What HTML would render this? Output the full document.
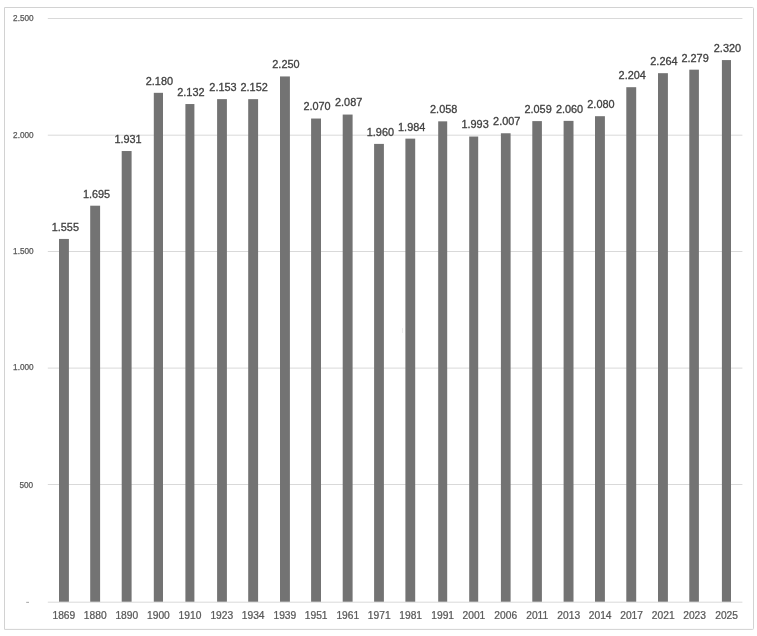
<!DOCTYPE html>
<html><head><meta charset="utf-8"><title>Chart</title>
<style>
html,body{margin:0;padding:0;background:#fff;}
body{width:757px;height:636px;overflow:hidden;font-family:"Liberation Sans",sans-serif;}
svg{display:block;position:absolute;left:0;top:0;will-change:transform;}
text{font-family:"Liberation Sans",sans-serif;}
.dl{font-size:10.9px;fill:#404040;stroke:#404040;stroke-width:0.3px;text-anchor:middle;}
.xl{font-size:10.25px;fill:#595959;stroke:#595959;stroke-width:0.25px;text-anchor:middle;}
.yl{font-size:8.2px;fill:#595959;stroke:#595959;stroke-width:0.25px;text-anchor:end;}
</style></head><body>
<svg width="757" height="636" viewBox="0 0 757 636">
<rect x="0" y="0" width="757" height="636" fill="#ffffff"/>
<path d="M4.5 7.5 H752.6 Q753.5 7.5 753.5 8.4 V628.5 Q753.5 629.4 752.6 629.4 H4.5 Z" fill="none" stroke="#d2d2d2" stroke-width="1" stroke-linejoin="miter"/>

<line x1="47.8" x2="742.4" y1="18.5" y2="18.5" stroke="#d9d9d9" stroke-width="1"/>
<line x1="47.8" x2="742.4" y1="135.2" y2="135.2" stroke="#d9d9d9" stroke-width="1"/>
<line x1="47.8" x2="742.4" y1="251.5" y2="251.5" stroke="#d9d9d9" stroke-width="1"/>
<line x1="47.8" x2="742.4" y1="368.1" y2="368.1" stroke="#d9d9d9" stroke-width="1"/>
<line x1="47.8" x2="742.4" y1="484.5" y2="484.5" stroke="#d9d9d9" stroke-width="1"/>
<line x1="47.8" x2="742.4" y1="602.2" y2="602.2" stroke="#d9d9d9" stroke-width="1"/>
<text class="yl" x="33.6" y="21.10">2.500</text>
<text class="yl" x="33.6" y="137.50">2.000</text>
<text class="yl" x="33.6" y="254.10">1.500</text>
<text class="yl" x="33.6" y="370.40">1.000</text>
<text class="yl" x="33.2" y="488.10">500</text>
<rect x="26.2" y="601.85" width="2.8" height="0.9" fill="#9a9a9a"/>
<rect x="59.00" y="238.94" width="9.90" height="362.76" fill="#737373"/>
<text class="dl" x="65.35" y="230.84">1.555</text>
<text class="xl" transform="translate(63.87 618.9) scale(1 0.98)">1869</text>
<rect x="90.20" y="205.70" width="9.90" height="396.00" fill="#737373"/>
<text class="dl" x="96.55" y="197.60">1.695</text>
<text class="xl" transform="translate(95.25 618.9) scale(1 0.98)">1880</text>
<rect x="121.70" y="151.03" width="9.90" height="450.67" fill="#737373"/>
<text class="dl" x="128.05" y="142.93">1.931</text>
<text class="xl" transform="translate(126.78 618.9) scale(1 0.98)">1890</text>
<rect x="153.80" y="92.82" width="9.20" height="508.88" fill="#737373"/>
<text class="dl" x="159.40" y="84.72">2.180</text>
<text class="xl" transform="translate(158.44 618.9) scale(1 0.98)">1900</text>
<rect x="185.40" y="104.04" width="9.00" height="497.66" fill="#737373"/>
<text class="dl" x="190.90" y="95.94">2.132</text>
<text class="xl" transform="translate(189.98 618.9) scale(1 0.98)">1910</text>
<rect x="217.10" y="99.13" width="9.80" height="502.57" fill="#737373"/>
<text class="dl" x="223.00" y="91.03">2.153</text>
<text class="xl" transform="translate(221.81 618.9) scale(1 0.98)">1923</text>
<rect x="248.20" y="99.15" width="9.90" height="502.55" fill="#737373"/>
<text class="dl" x="254.15" y="91.05">2.152</text>
<text class="xl" transform="translate(253.17 618.9) scale(1 0.98)">1934</text>
<rect x="280.00" y="76.45" width="9.90" height="525.25" fill="#737373"/>
<text class="dl" x="285.95" y="68.35">2.250</text>
<text class="xl" transform="translate(284.85 618.9) scale(1 0.98)">1939</text>
<rect x="311.10" y="118.53" width="9.90" height="483.17" fill="#737373"/>
<text class="dl" x="317.05" y="110.43">2.070</text>
<text class="xl" transform="translate(316.18 618.9) scale(1 0.98)">1951</text>
<rect x="342.70" y="114.56" width="9.90" height="487.14" fill="#737373"/>
<text class="dl" x="348.65" y="106.46">2.087</text>
<text class="xl" transform="translate(347.77 618.9) scale(1 0.98)">1961</text>
<rect x="374.10" y="143.90" width="9.80" height="457.80" fill="#737373"/>
<text class="dl" x="380.40" y="135.80">1.960</text>
<text class="xl" transform="translate(379.23 618.9) scale(1 0.98)">1971</text>
<rect x="405.40" y="138.64" width="9.80" height="463.06" fill="#737373"/>
<text class="dl" x="411.70" y="130.54">1.984</text>
<text class="xl" transform="translate(410.66 618.9) scale(1 0.98)">1981</text>
<rect x="438.20" y="121.34" width="9.00" height="480.36" fill="#737373"/>
<text class="dl" x="443.70" y="113.24">2.058</text>
<text class="xl" transform="translate(442.64 618.9) scale(1 0.98)">1991</text>
<rect x="469.20" y="136.54" width="9.00" height="465.16" fill="#737373"/>
<text class="dl" x="475.10" y="128.44">1.993</text>
<text class="xl" transform="translate(473.93 618.9) scale(1 0.98)">2001</text>
<rect x="500.90" y="133.26" width="9.70" height="468.44" fill="#737373"/>
<text class="dl" x="506.75" y="125.16">2.007</text>
<text class="xl" transform="translate(505.74 618.9) scale(1 0.98)">2006</text>
<rect x="532.30" y="121.11" width="9.60" height="480.59" fill="#737373"/>
<text class="dl" x="538.10" y="113.01">2.059</text>
<text class="xl" transform="translate(537.19 618.9) scale(1 0.98)">2011</text>
<rect x="563.60" y="120.87" width="9.90" height="480.83" fill="#737373"/>
<text class="dl" x="569.55" y="112.77">2.060</text>
<text class="xl" transform="translate(568.70 618.9) scale(1 0.98)">2013</text>
<rect x="595.00" y="116.20" width="9.90" height="485.50" fill="#737373"/>
<text class="dl" x="600.95" y="108.10">2.080</text>
<text class="xl" transform="translate(600.19 618.9) scale(1 0.98)">2014</text>
<rect x="626.30" y="87.20" width="9.90" height="514.50" fill="#737373"/>
<text class="dl" x="632.25" y="79.10">2.204</text>
<text class="xl" transform="translate(631.62 618.9) scale(1 0.98)">2017</text>
<rect x="658.00" y="73.18" width="9.90" height="528.52" fill="#737373"/>
<text class="dl" x="663.95" y="65.08">2.264</text>
<text class="xl" transform="translate(663.25 618.9) scale(1 0.98)">2021</text>
<rect x="689.30" y="69.67" width="9.60" height="532.03" fill="#737373"/>
<text class="dl" x="695.10" y="61.57">2.279</text>
<text class="xl" transform="translate(694.61 618.9) scale(1 0.98)">2023</text>
<rect x="721.90" y="60.08" width="9.10" height="541.62" fill="#737373"/>
<text class="dl" x="727.45" y="51.98">2.320</text>
<text class="xl" transform="translate(726.57 618.9) scale(1 0.98)">2025</text>
<rect x="402" y="328" width="0.9" height="5" fill="#ececec"/>
</svg></body></html>
